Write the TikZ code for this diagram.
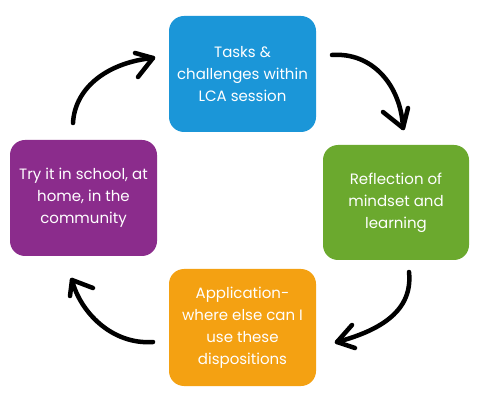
\documentclass[tikz,border=0pt]{standalone}
\usepackage{fontspec}
\setmainfont{Poppins}
\definecolor{cblue}{HTML}{1B96D8}
\definecolor{cgreen}{HTML}{6BA92E}
\definecolor{corange}{HTML}{F4A112}
\definecolor{cpurple}{HTML}{8B2C8C}
\begin{document}
\begin{tikzpicture}[x=1pt,y=-1pt,
  card/.style={rounded corners=15pt, inner sep=0pt, text=white, align=center,
    font=\fontsize{15}{22}\selectfont},
  curvearrow/.style={line width=4.5pt, line cap=round, line join=round, black}]
\useasboundingbox (0,0) rectangle (500,419);
\fill[white] (0,0) rectangle (500,419);
% boxes
\fill[cblue, rounded corners=15pt] (169,16) rectangle (316,132);
\node[card] (tasks) at (242.5,74) {Tasks \&\\challenges within\\LCA session};
\fill[cgreen, rounded corners=15pt] (323,145) rectangle (469,260);
\node[card] (refl) at (396,202.5) {Reflection of\\mindset and\\learning};
\fill[corange, rounded corners=15pt] (169,269) rectangle (316,386);
\node[card] (appl) at (242.5,327.5) {Application-\\where else can I\\use these\\dispositions};
\fill[cpurple, rounded corners=15pt] (10,140) rectangle (157,256);
\node[card] (try) at (83.5,198) {Try it in school, at\\home, in the\\community};
% arrow coordinates
\coordinate (a1s) at (332,55);
\coordinate (a1t) at (403,128);
\coordinate (a1b1) at (383,112);
\coordinate (a1b2) at (408,108);
\coordinate (a2s) at (409,272);
\coordinate (a2t) at (337,342);
\coordinate (a2b1) at (352,325);
\coordinate (a2b2) at (355,348);
\coordinate (a3s) at (153,342);
\coordinate (a3t) at (72,280);
\coordinate (a3b1) at (93,288);
\coordinate (a3b2) at (70,296);
\coordinate (a4s) at (73,123);
\coordinate (a4t) at (153,58);
\coordinate (a4b1) at (135,53);
\coordinate (a4b2) at (138,77);
% arrows
\draw[curvearrow] (a1s) .. controls (372,52) and (401,85) .. (a1t);
\draw[curvearrow] (a1b1) -- (a1t) -- (a1b2);
\draw[curvearrow] (a2s) .. controls (413,310) and (382,330) .. (a2t);
\draw[curvearrow] (a2b1) -- (a2t) -- (a2b2);
\draw[curvearrow] (a3s) .. controls (112,345) and (80,312) .. (a3t);
\draw[curvearrow] (a3b1) -- (a3t) -- (a3b2);
\draw[curvearrow] (a4s) .. controls (75,86) and (110,62) .. (a4t);
\draw[curvearrow] (a4b1) -- (a4t) -- (a4b2);
\end{tikzpicture}
\end{document}
